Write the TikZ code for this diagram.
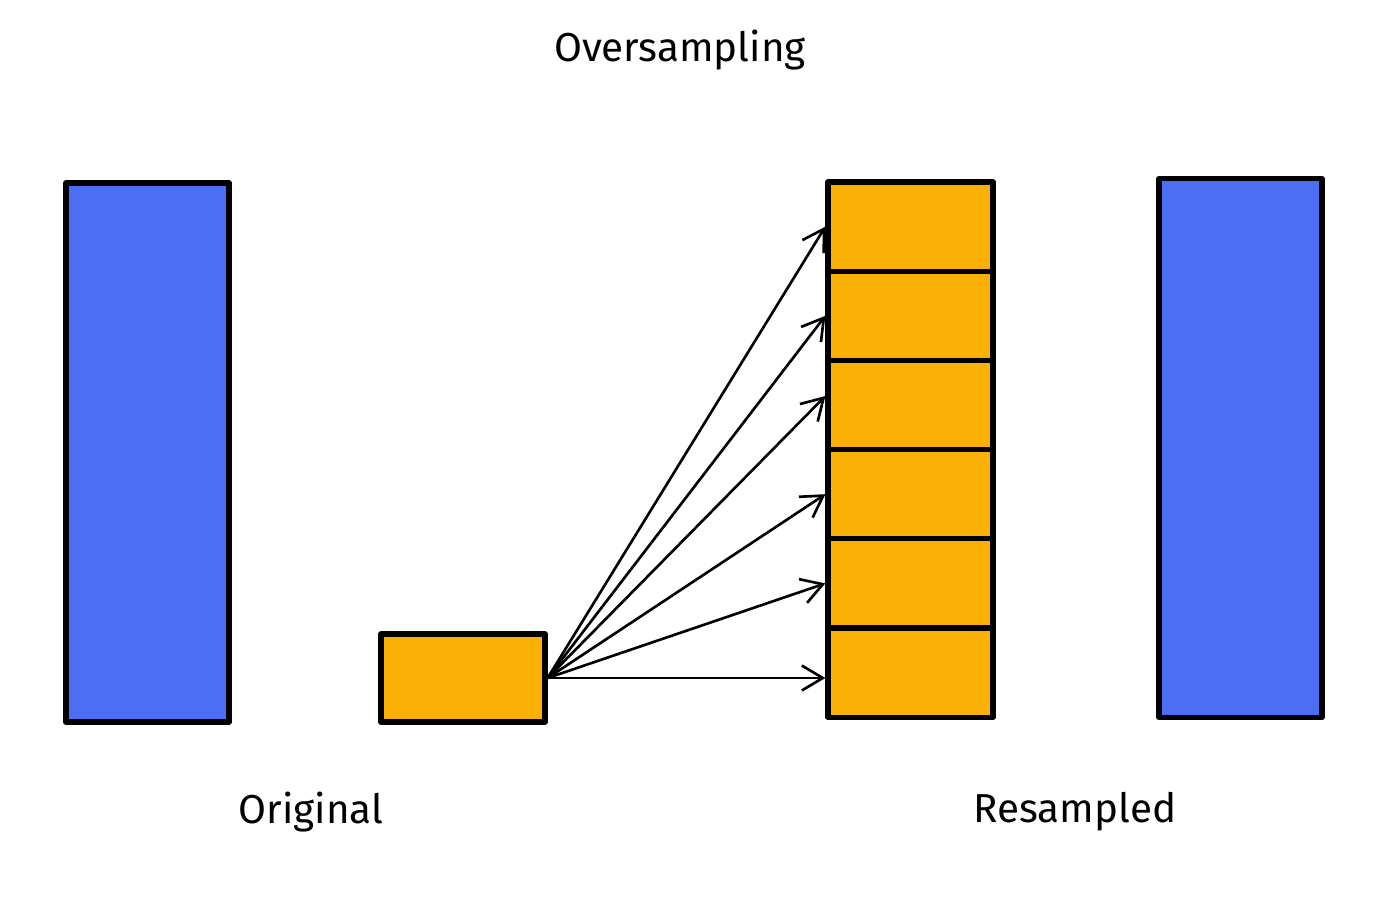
\documentclass[tikz,border=0pt]{standalone}
\usepackage{fontspec}
\setmainfont{Fira Sans}
\usetikzlibrary{arrows.meta}
\definecolor{sampleblue}{HTML}{4C6EF5}
\definecolor{sampleorange}{HTML}{FAB005}
\tikzset{
  bar/.style={draw=black, line width=3pt, line join=round, fill=sampleblue,
    minimum width=3.26cm, minimum height=10.78cm, inner sep=0pt},
  cell/.style={draw=black, line width=3pt, line join=round, fill=sampleorange,
    minimum width=3.3cm, minimum height=1.784cm, inner sep=0pt},
  label/.style={font=\fontsize{23}{28}\selectfont}
}
\begin{document}
\begin{tikzpicture}[x=0.02cm, y=-0.02cm]
  \useasboundingbox (0,0) rectangle (1400,906);
  \draw
    (147.5,452.5) node[bar] (orig){}
    (1240.5,448) node[bar] (resampled){}
    (463,678) node[cell, minimum width=3.28cm, minimum height=1.76cm] (src){}
    (910.5,226.6) node[cell] (c1){}
    (910.5,315.8) node[cell] (c2){}
    (910.5,405.0) node[cell] (c3){}
    (910.5,494.2) node[cell] (c4){}
    (910.5,583.4) node[cell] (c5){}
    (910.5,672.6) node[cell] (c6){};
  \node[label] (title) at (680,50) {Oversampling};
  \node[label] (origlabel) at (311,812) {Original};
  \node[label] (reslabel) at (1075,812) {Resampled};
  \begin{scope}[-{Straight Barb[length=0.42cm, width=0.5cm, line width=1.5pt]}, line width=1.5pt]
    \draw (src.east) to (c1.west);
    \draw (src.east) to (c2.west);
    \draw (src.east) to ([yshift=0.18cm]c3.west);
    \draw (src.east) to (c4.west);
    \draw (src.east) to (c5.west);
    \draw (src.east) to (src.east -| c6.west);
  \end{scope}
\end{tikzpicture}
\end{document}
